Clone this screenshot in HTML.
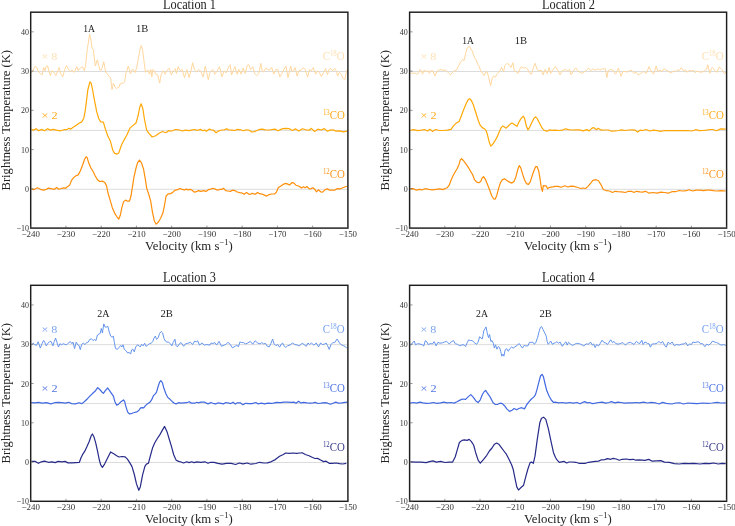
<!DOCTYPE html>
<html><head><meta charset="utf-8"><style>
html,body{margin:0;padding:0;background:#fff;overflow:hidden;}
svg{display:block;font-family:"Liberation Serif", serif;will-change:transform;}
</style></head><body>
<svg width="735" height="526" viewBox="0 0 735 526">
<rect width="735" height="526" fill="#fff"/>
<line x1="30.7" x2="347.9" y1="189.30" y2="189.30" stroke="#dcdcdc" stroke-width="1"/>
<line x1="30.7" x2="347.9" y1="130.41" y2="130.41" stroke="#dcdcdc" stroke-width="1"/>
<line x1="30.7" x2="347.9" y1="71.53" y2="71.53" stroke="#dcdcdc" stroke-width="1"/>
<path d="M31.0,72.2 L32.0,72.2 L34.8,66.7 L36.8,67.4 L38.2,70.8 L40.2,73.5 L42.2,74.9 L43.6,67.4 L45.0,70.8 L46.3,66.0 L47.7,66.0 L49.0,71.5 L50.4,75.6 L51.8,70.8 L53.8,72.2 L55.9,75.6 L57.2,72.2 L59.3,67.4 L60.6,73.5 L62.7,76.9 L64.7,69.5 L66.5,65.6 L68.1,68.8 L70.1,71.5 L72.2,70.1 L74.2,72.4 L76.9,66.7 L78.3,70.8 L80.3,68.1 L82.4,66.7 L84.4,70.8 L85.8,64.0 L87.1,50.4 L88.2,43.6 L89.6,34.1 L91.0,40.2 L91.9,47.7 L93.3,49.7 L95.3,66.0 L97.3,59.9 L98.7,65.4 L100.0,70.3 L101.3,70.0 L102.3,67.3 L103.7,61.7 L104.7,66.7 L105.7,72.0 L106.7,73.3 L108.0,75.0 L109.3,76.6 L110.6,78.0 L111.3,83.3 L112.0,89.6 L112.6,86.6 L113.3,83.3 L114.3,85.0 L115.3,87.3 L116.3,88.6 L117.3,87.6 L118.3,87.9 L119.3,86.9 L120.0,84.0 L121.0,83.6 L122.0,83.3 L123.3,83.0 L124.6,82.0 L125.3,77.3 L125.9,73.3 L126.9,70.6 L128.3,66.0 L129.3,69.3 L130.5,74.0 L131.3,71.6 L132.6,69.0 L133.9,70.6 L135.0,72.6 L136.6,68.1 L138.6,57.2 L140.2,48.4 L141.3,45.6 L142.7,50.4 L144.0,61.3 L145.4,72.2 L146.8,70.8 L148.1,70.1 L149.5,74.2 L150.9,69.5 L151.8,76.9 L152.9,69.5 L154.3,70.8 L155.6,74.2 L157.7,74.9 L159.7,83.1 L161.1,74.9 L163.1,70.8 L165.1,74.2 L167.2,70.1 L169.2,68.1 L171.3,74.9 L173.3,70.8 L175.3,68.8 L176.4,73.5 L178.1,66.7 L180.1,70.8 L182.1,69.5 L184.5,77.6 L186.9,69.5 L189.0,77.6 L191.0,70.8 L192.6,62.7 L194.4,69.5 L196.4,72.2 L198.5,69.5 L200.5,70.8 L203.2,76.9 L205.3,66.0 L206.6,72.2 L208.3,79.7 L210.0,72.2 L212.8,69.5 L214.8,74.2 L216.8,71.5 L219.6,66.7 L222.0,76.9 L224.1,70.8 L226.1,72.9 L228.2,68.1 L230.2,64.7 L231.6,74.9 L233.6,69.5 L235.0,66.7 L237.0,74.2 L239.0,69.5 L241.1,74.2 L243.1,68.1 L245.2,73.5 L247.2,65.4 L248.8,64.7 L250.6,69.5 L252.7,66.7 L254.7,73.5 L256.7,75.6 L258.8,73.5 L260.8,63.3 L262.2,70.8 L263.5,72.2 L265.6,68.1 L267.6,69.5 L269.7,70.1 L271.7,67.4 L273.7,74.2 L275.8,69.5 L277.8,69.5 L279.9,76.9 L281.9,73.5 L283.9,69.5 L286.0,66.0 L288.0,77.6 L290.7,66.0 L291.9,71.4 L293.8,70.4 L295.2,67.6 L297.1,76.1 L299.0,70.4 L300.9,70.4 L303.3,67.6 L305.2,69.5 L307.6,77.1 L309.5,69.5 L311.4,70.9 L313.3,67.6 L315.7,74.2 L317.6,70.9 L319.5,72.8 L321.4,76.6 L323.7,72.3 L325.6,68.5 L327.5,74.7 L329.0,69.5 L330.9,68.5 L332.8,70.9 L334.7,68.5 L336.6,71.4 L337.5,76.1 L339.4,72.3 L341.3,74.2 L343.2,78.5 L344.7,79.9 L346.1,73.3 L347.0,70.0" fill="none" stroke="#ffd79e" stroke-width="1.0" stroke-linejoin="round"/>
<path d="M31.4,129.4 L33.4,130.1 L36.1,128.7 L38.8,130.8 L41.6,129.4 L44.3,130.8 L47.7,128.7 L50.4,130.1 L53.1,129.4 L56.5,130.1 L60.6,130.8 L64.0,129.7 L67.4,129.4 L68.8,128.3 L70.8,129.1 L73.5,127.1 L76.3,125.3 L79.0,123.3 L81.7,121.9 L83.7,118.5 L85.1,111.7 L86.5,100.9 L87.8,90.0 L89.9,81.8 L91.2,83.2 L92.6,90.0 L94.6,100.9 L96.7,111.7 L98.7,118.5 L100.7,121.9 L103.4,122.1 L105.1,128.1 L107.7,135.8 L110.3,140.9 L112.8,150.3 L114.6,153.4 L117.1,154.1 L118.8,152.9 L121.4,145.2 L124.0,140.1 L126.5,135.8 L130.0,128.1 L132.5,125.9 L136.0,123.0 L138.0,116.1 L139.7,107.5 L141.1,103.8 L142.8,108.4 L144.5,119.5 L146.6,129.8 L148.8,133.2 L152.2,137.0 L155.7,135.8 L159.1,133.2 L162.5,131.5 L165.9,132.7 L168.5,130.7 L171.9,131.0 L175.3,129.5 L178.8,129.8 L182.2,131.0 L185.6,130.1 L189.0,130.7 L192.5,129.8 L195.0,129.5 L197.2,130.5 L200.4,129.4 L203.2,130.8 L204.8,130.0 L206.4,131.3 L209.1,129.1 L211.3,129.8 L213.5,130.2 L216.2,132.7 L218.9,130.8 L221.7,130.0 L224.4,129.8 L226.6,128.9 L228.7,129.8 L232.0,130.2 L234.7,130.5 L237.4,129.4 L240.7,129.8 L243.4,130.8 L246.1,129.8 L248.9,130.0 L251.6,131.9 L254.3,131.6 L257.0,130.5 L259.7,129.4 L262.5,129.1 L265.2,129.8 L269.0,130.0 L274.9,129.1 L278.2,130.8 L282.0,128.9 L285.2,128.4 L289.0,128.6 L292.3,130.5 L295.6,128.9 L298.8,131.1 L302.6,128.7 L306.5,130.0 L309.2,130.2 L311.3,128.3 L314.6,131.6 L317.9,129.2 L321.1,130.0 L324.4,128.6 L327.1,131.1 L330.4,130.2 L333.1,129.8 L335.8,131.1 L339.6,130.8 L343.4,131.9 L347.0,131.1" fill="none" stroke="#ffa806" stroke-width="1.2" stroke-linejoin="round"/>
<path d="M31.5,188.6 L33.7,189.8 L37.4,187.8 L40.4,189.3 L43.4,190.1 L46.3,189.3 L48.5,188.1 L52.3,188.9 L54.5,189.3 L56.7,187.5 L58.9,189.3 L61.9,188.3 L63.8,187.8 L65.6,188.3 L67.8,186.4 L69.8,184.9 L71.5,180.4 L73.8,177.4 L76.0,175.7 L78.2,174.9 L80.4,170.8 L82.7,164.8 L84.6,159.2 L86.1,156.7 L87.1,157.4 L88.6,162.6 L90.8,167.8 L93.1,171.5 L95.3,176.0 L97.5,179.7 L99.7,181.5 L102.7,181.2 L104.9,182.6 L106.5,185.6 L108.0,193.0 L110.2,200.4 L112.4,207.9 L114.6,213.1 L116.9,216.8 L118.8,219.0 L120.3,215.3 L121.8,207.9 L123.5,201.9 L125.5,200.1 L127.6,201.2 L129.5,201.2 L131.0,196.0 L132.4,187.1 L133.9,177.4 L135.9,168.5 L137.6,162.6 L139.4,160.1 L141.4,162.6 L143.6,169.3 L145.4,179.7 L146.8,188.6 L148.8,194.5 L150.7,201.2 L152.5,212.3 L154.4,221.2 L156.2,224.2 L158.4,222.0 L160.6,218.2 L162.9,213.1 L164.3,206.4 L166.1,196.0 L168.1,193.8 L170.3,193.8 L172.5,192.6 L174.7,190.4 L177.7,189.6 L180.0,188.5 L182.3,189.4 L184.6,189.9 L186.4,189.1 L188.1,189.9 L190.4,189.4 L192.1,190.2 L194.5,192.2 L196.2,191.7 L198.5,190.6 L200.8,191.4 L203.7,190.6 L206.0,191.4 L208.3,189.7 L210.6,189.1 L213.0,188.3 L215.3,189.1 L217.6,190.2 L219.9,189.4 L221.6,189.4 L223.7,188.3 L225.7,190.6 L228.0,191.0 L230.3,191.4 L232.6,190.2 L234.9,190.6 L237.2,192.0 L239.6,192.6 L241.9,192.9 L244.2,194.3 L246.5,192.6 L249.4,194.5 L252.3,193.4 L255.2,194.3 L257.5,192.6 L259.8,193.7 L262.7,194.3 L264.4,195.1 L266.6,196.1 L269.2,194.6 L271.6,194.0 L274.6,194.0 L276.4,192.2 L278.2,187.7 L280.6,186.2 L283.0,184.4 L286.0,183.4 L287.7,184.1 L289.5,185.0 L291.9,182.6 L293.7,182.9 L296.1,185.3 L299.1,186.2 L301.5,188.0 L303.3,186.8 L305.1,187.7 L306.9,186.5 L309.3,188.9 L311.1,188.6 L312.9,187.7 L314.7,189.2 L316.5,191.8 L318.3,189.8 L320.7,191.8 L322.5,192.2 L324.9,189.8 L327.3,188.9 L329.7,190.1 L332.7,190.1 L335.1,190.1 L337.4,188.6 L339.8,188.9 L342.2,188.0 L344.6,187.0 L347.0,186.2" fill="none" stroke="#ff8f0a" stroke-width="1.2" stroke-linejoin="round"/>
<rect x="30.7" y="12.2" width="317.20" height="215.90" fill="none" stroke="#1e1e1e" stroke-width="1.45"/>
<line x1="30.70" x2="30.70" y1="228.1" y2="225.6" stroke="#555" stroke-width="0.6"/>
<text x="30.70" y="237.10" font-size="8.9" text-anchor="middle" fill="#333" >&#8722;240</text>
<line x1="65.94" x2="65.94" y1="228.1" y2="225.6" stroke="#555" stroke-width="0.6"/>
<text x="65.94" y="237.10" font-size="8.9" text-anchor="middle" fill="#333" >&#8722;230</text>
<line x1="101.19" x2="101.19" y1="228.1" y2="225.6" stroke="#555" stroke-width="0.6"/>
<text x="101.19" y="237.10" font-size="8.9" text-anchor="middle" fill="#333" >&#8722;220</text>
<line x1="136.43" x2="136.43" y1="228.1" y2="225.6" stroke="#555" stroke-width="0.6"/>
<text x="136.43" y="237.10" font-size="8.9" text-anchor="middle" fill="#333" >&#8722;210</text>
<line x1="171.68" x2="171.68" y1="228.1" y2="225.6" stroke="#555" stroke-width="0.6"/>
<text x="171.68" y="237.10" font-size="8.9" text-anchor="middle" fill="#333" >&#8722;200</text>
<line x1="206.92" x2="206.92" y1="228.1" y2="225.6" stroke="#555" stroke-width="0.6"/>
<text x="206.92" y="237.10" font-size="8.9" text-anchor="middle" fill="#333" >&#8722;190</text>
<line x1="242.17" x2="242.17" y1="228.1" y2="225.6" stroke="#555" stroke-width="0.6"/>
<text x="242.17" y="237.10" font-size="8.9" text-anchor="middle" fill="#333" >&#8722;180</text>
<line x1="277.41" x2="277.41" y1="228.1" y2="225.6" stroke="#555" stroke-width="0.6"/>
<text x="277.41" y="237.10" font-size="8.9" text-anchor="middle" fill="#333" >&#8722;170</text>
<line x1="312.66" x2="312.66" y1="228.1" y2="225.6" stroke="#555" stroke-width="0.6"/>
<text x="312.66" y="237.10" font-size="8.9" text-anchor="middle" fill="#333" >&#8722;160</text>
<line x1="347.90" x2="347.90" y1="228.1" y2="225.6" stroke="#555" stroke-width="0.6"/>
<text x="347.90" y="237.10" font-size="8.9" text-anchor="middle" fill="#333" >&#8722;150</text>
<line x1="30.7" x2="33.7" y1="228.10" y2="228.10" stroke="#555" stroke-width="0.6"/>
<text transform="translate(28.95,231.15) scale(0.9,1)" font-size="8.9" text-anchor="end" fill="#333">&#8722;10</text>
<line x1="30.7" x2="33.7" y1="188.85" y2="188.85" stroke="#555" stroke-width="0.6"/>
<text transform="translate(28.95,191.90) scale(0.9,1)" font-size="8.9" text-anchor="end" fill="#333">0</text>
<line x1="30.7" x2="33.7" y1="149.59" y2="149.59" stroke="#555" stroke-width="0.6"/>
<text transform="translate(28.95,152.64) scale(0.9,1)" font-size="8.9" text-anchor="end" fill="#333">10</text>
<line x1="30.7" x2="33.7" y1="110.34" y2="110.34" stroke="#555" stroke-width="0.6"/>
<text transform="translate(28.95,113.39) scale(0.9,1)" font-size="8.9" text-anchor="end" fill="#333">20</text>
<line x1="30.7" x2="33.7" y1="71.08" y2="71.08" stroke="#555" stroke-width="0.6"/>
<text transform="translate(28.95,74.13) scale(0.9,1)" font-size="8.9" text-anchor="end" fill="#333">30</text>
<line x1="30.7" x2="33.7" y1="31.83" y2="31.83" stroke="#555" stroke-width="0.6"/>
<text transform="translate(28.95,34.88) scale(0.9,1)" font-size="8.9" text-anchor="end" fill="#333">40</text>
<line x1="409.6" x2="726.6" y1="189.30" y2="189.30" stroke="#dcdcdc" stroke-width="1"/>
<line x1="409.6" x2="726.6" y1="130.41" y2="130.41" stroke="#dcdcdc" stroke-width="1"/>
<line x1="409.6" x2="726.6" y1="71.53" y2="71.53" stroke="#dcdcdc" stroke-width="1"/>
<path d="M410.4,72.9 L412.4,73.5 L414.4,72.9 L416.5,74.2 L418.5,73.3 L419.9,69.5 L421.2,70.8 L422.6,74.2 L424.2,70.1 L426.0,71.5 L428.0,70.8 L429.4,73.3 L430.8,70.8 L432.8,70.8 L434.9,76.0 L436.9,71.5 L438.9,70.1 L441.0,69.5 L443.0,70.5 L445.1,69.7 L447.1,71.5 L449.1,73.5 L450.5,74.9 L452.5,72.2 L454.6,70.8 L456.6,70.1 L458.7,65.4 L460.7,62.0 L462.7,59.3 L464.1,60.6 L465.5,53.8 L466.8,49.0 L468.2,47.0 L469.5,46.1 L470.9,49.0 L472.3,51.1 L473.6,55.2 L475.0,58.6 L476.3,59.9 L477.7,64.7 L479.1,66.0 L480.4,70.1 L482.5,73.5 L484.1,75.6 L485.9,71.5 L487.2,72.2 L488.6,76.9 L490.6,85.8 L492.0,79.0 L493.4,76.3 L495.4,76.9 L497.4,73.5 L499.5,71.5 L501.5,67.4 L503.6,71.5 L505.0,65.4 L507.0,63.3 L509.1,64.7 L511.1,67.4 L512.9,62.7 L514.3,70.8 L515.9,71.5 L517.9,73.5 L520.0,68.8 L521.3,66.7 L523.4,68.1 L525.4,67.4 L527.4,68.8 L529.5,72.9 L531.5,74.2 L533.6,66.7 L535.2,63.3 L537.0,69.5 L539.0,70.8 L541.1,70.1 L543.1,74.9 L545.1,69.5 L547.2,73.5 L549.2,67.4 L550.6,73.5 L552.6,70.1 L555.3,66.5 L557.4,69.5 L560.1,74.9 L562.1,70.8 L564.9,69.5 L567.6,70.8 L569.6,69.5 L571.0,74.9 L573.0,71.5 L575.7,67.8 L577.8,70.8 L579.8,72.2 L581.9,73.3 L583.9,72.2 L586.6,70.1 L588.7,68.1 L590.7,70.8 L592.8,68.8 L595.5,70.1 L598.2,68.8 L600.0,70.1 L602.7,68.8 L605.4,68.8 L606.8,77.6 L608.2,70.8 L610.2,69.5 L612.9,70.1 L615.6,74.2 L618.4,68.1 L621.1,76.3 L623.1,71.5 L625.2,71.5 L627.2,72.2 L629.3,70.8 L631.3,70.1 L634.0,73.5 L636.1,72.2 L638.1,74.9 L640.8,73.5 L643.5,71.5 L646.3,73.5 L649.0,66.7 L651.0,70.8 L653.7,74.2 L656.1,66.0 L657.8,71.5 L659.9,70.1 L661.9,71.5 L663.9,68.8 L666.0,70.1 L668.0,70.8 L670.0,72.8 L671.9,72.3 L673.8,70.9 L675.7,71.4 L677.6,69.9 L679.5,70.4 L681.4,67.6 L682.8,69.9 L684.3,70.9 L685.7,69.9 L687.1,72.3 L689.0,70.4 L691.4,70.9 L693.8,70.4 L695.2,72.8 L697.1,70.9 L699.0,71.8 L700.9,72.3 L702.8,71.8 L704.7,70.4 L706.6,69.5 L707.8,64.7 L709.0,69.9 L709.9,73.3 L711.1,69.5 L712.3,67.6 L713.7,69.0 L715.2,70.9 L717.1,72.3 L719.0,67.1 L720.4,68.0 L721.8,69.5 L723.2,71.8 L724.7,73.7 L726.1,71.8" fill="none" stroke="#ffd79e" stroke-width="1.0" stroke-linejoin="round"/>
<path d="M410.2,130.4 L413.9,129.7 L417.7,130.7 L421.4,130.1 L424.5,129.5 L427.5,131.0 L430.0,129.3 L432.5,131.4 L435.6,129.5 L439.3,130.5 L443.6,130.5 L447.3,130.1 L451.0,129.3 L453.5,125.8 L456.0,123.3 L459.1,121.5 L460.9,117.1 L463.4,110.3 L465.9,104.2 L468.1,99.8 L469.6,98.6 L471.4,100.5 L473.3,104.8 L475.7,112.2 L478.2,120.2 L480.0,124.9 L482.2,127.6 L484.4,128.7 L486.0,130.4 L487.6,135.3 L489.2,141.8 L490.7,146.1 L492.5,144.5 L494.7,141.2 L496.9,137.4 L499.0,132.5 L500.9,128.2 L502.6,126.0 L504.5,127.1 L506.1,128.2 L508.3,126.0 L510.5,123.8 L512.1,123.1 L514.3,124.4 L517.0,126.3 L518.6,122.7 L520.8,118.9 L523.3,116.2 L524.6,118.4 L526.2,125.5 L527.9,129.8 L529.5,127.6 L531.7,122.7 L533.9,118.4 L535.5,116.8 L537.1,118.4 L539.3,122.7 L541.5,127.1 L543.7,130.0 L546.4,131.1 L548.0,130.9 L549.6,129.8 L551.8,130.4 L555.0,130.2 L558.7,130.5 L562.3,130.2 L565.4,128.8 L568.5,129.6 L572.1,130.0 L575.8,129.8 L579.5,129.8 L583.2,130.9 L586.8,129.6 L589.3,130.9 L591.7,128.4 L593.6,127.5 L596.0,129.6 L598.5,128.4 L601.5,130.2 L605.2,130.0 L608.2,130.0 L611.3,131.2 L615.0,130.9 L618.6,130.5 L621.7,129.8 L624.8,130.5 L628.4,130.0 L632.1,129.8 L635.2,130.2 L637.6,132.1 L640.1,130.2 L643.1,130.5 L646.1,129.5 L649.8,131.0 L653.5,130.1 L657.1,130.7 L660.8,131.3 L664.5,130.5 L668.2,130.7 L673.0,130.5 L677.9,130.7 L682.8,130.7 L687.7,130.5 L692.0,131.0 L695.7,129.7 L699.4,130.7 L703.0,130.5 L706.7,130.1 L709.8,129.5 L712.8,129.5 L716.5,130.7 L720.8,128.9 L725.7,129.2" fill="none" stroke="#ffa806" stroke-width="1.2" stroke-linejoin="round"/>
<path d="M410.2,188.9 L413.3,188.6 L416.4,190.2 L419.5,189.3 L422.6,189.8 L425.1,188.7 L428.8,189.3 L432.5,189.8 L436.2,189.3 L439.9,188.9 L443.0,189.6 L445.5,188.3 L447.3,187.7 L449.2,185.2 L451.0,180.3 L452.9,176.0 L455.0,172.2 L457.2,168.5 L459.1,164.2 L460.3,159.9 L461.5,158.7 L463.4,160.5 L465.9,163.8 L468.3,167.3 L470.8,171.6 L472.7,174.7 L474.5,179.7 L476.7,182.1 L478.8,182.8 L480.7,181.5 L481.9,178.4 L483.5,176.6 L485.6,179.7 L488.0,185.8 L489.9,190.8 L491.7,195.7 L493.6,198.8 L495.1,199.2 L496.7,195.7 L498.5,188.9 L500.4,182.8 L502.2,179.9 L504.5,178.7 L506.6,180.3 L509.0,181.9 L511.9,183.1 L514.0,181.5 L515.8,177.2 L517.7,169.8 L519.3,165.5 L520.8,167.9 L522.6,174.1 L524.5,179.7 L526.4,183.6 L528.5,184.4 L530.1,182.1 L531.9,176.6 L533.8,171.0 L535.6,166.7 L537.1,166.7 L538.7,171.0 L540.0,178.4 L541.2,187.1 L542.4,191.4 L543.3,185.6 L544.9,185.8 L546.1,185.8 L547.7,188.6 L549.8,187.3 L552.9,186.8 L555.0,186.4 L558.1,186.4 L561.1,187.3 L564.8,185.8 L567.9,187.0 L570.9,186.1 L574.0,186.4 L577.0,187.3 L580.7,188.5 L583.2,188.0 L585.6,188.5 L588.0,186.4 L590.5,183.4 L592.9,180.3 L596.0,179.7 L598.5,180.7 L600.9,184.6 L603.3,189.5 L606.4,190.7 L609.5,191.0 L612.5,192.5 L615.0,191.3 L618.0,191.7 L621.7,191.9 L625.4,192.5 L628.4,191.3 L631.5,191.3 L633.9,192.5 L636.4,191.3 L640.0,191.9 L642.4,192.2 L645.5,191.3 L649.2,193.2 L652.9,192.5 L657.1,193.2 L660.8,192.2 L664.5,192.5 L668.2,193.2 L671.8,191.7 L675.5,191.7 L679.2,190.5 L682.8,191.0 L686.5,190.7 L689.0,189.7 L692.6,191.0 L696.3,190.1 L700.0,190.1 L703.6,190.7 L706.7,190.1 L710.4,190.1 L713.4,190.7 L716.5,191.0 L720.8,190.7 L725.7,191.0" fill="none" stroke="#ff8f0a" stroke-width="1.2" stroke-linejoin="round"/>
<rect x="409.6" y="12.2" width="317.00" height="215.90" fill="none" stroke="#1e1e1e" stroke-width="1.45"/>
<line x1="409.60" x2="409.60" y1="228.1" y2="225.6" stroke="#555" stroke-width="0.6"/>
<text x="409.60" y="237.10" font-size="8.9" text-anchor="middle" fill="#333" >&#8722;240</text>
<line x1="444.82" x2="444.82" y1="228.1" y2="225.6" stroke="#555" stroke-width="0.6"/>
<text x="444.82" y="237.10" font-size="8.9" text-anchor="middle" fill="#333" >&#8722;230</text>
<line x1="480.04" x2="480.04" y1="228.1" y2="225.6" stroke="#555" stroke-width="0.6"/>
<text x="480.04" y="237.10" font-size="8.9" text-anchor="middle" fill="#333" >&#8722;220</text>
<line x1="515.27" x2="515.27" y1="228.1" y2="225.6" stroke="#555" stroke-width="0.6"/>
<text x="515.27" y="237.10" font-size="8.9" text-anchor="middle" fill="#333" >&#8722;210</text>
<line x1="550.49" x2="550.49" y1="228.1" y2="225.6" stroke="#555" stroke-width="0.6"/>
<text x="550.49" y="237.10" font-size="8.9" text-anchor="middle" fill="#333" >&#8722;200</text>
<line x1="585.71" x2="585.71" y1="228.1" y2="225.6" stroke="#555" stroke-width="0.6"/>
<text x="585.71" y="237.10" font-size="8.9" text-anchor="middle" fill="#333" >&#8722;190</text>
<line x1="620.93" x2="620.93" y1="228.1" y2="225.6" stroke="#555" stroke-width="0.6"/>
<text x="620.93" y="237.10" font-size="8.9" text-anchor="middle" fill="#333" >&#8722;180</text>
<line x1="656.16" x2="656.16" y1="228.1" y2="225.6" stroke="#555" stroke-width="0.6"/>
<text x="656.16" y="237.10" font-size="8.9" text-anchor="middle" fill="#333" >&#8722;170</text>
<line x1="691.38" x2="691.38" y1="228.1" y2="225.6" stroke="#555" stroke-width="0.6"/>
<text x="691.38" y="237.10" font-size="8.9" text-anchor="middle" fill="#333" >&#8722;160</text>
<line x1="726.60" x2="726.60" y1="228.1" y2="225.6" stroke="#555" stroke-width="0.6"/>
<text x="726.60" y="237.10" font-size="8.9" text-anchor="middle" fill="#333" >&#8722;150</text>
<line x1="409.6" x2="412.6" y1="228.10" y2="228.10" stroke="#555" stroke-width="0.6"/>
<text transform="translate(407.85,231.15) scale(0.9,1)" font-size="8.9" text-anchor="end" fill="#333">&#8722;10</text>
<line x1="409.6" x2="412.6" y1="188.85" y2="188.85" stroke="#555" stroke-width="0.6"/>
<text transform="translate(407.85,191.90) scale(0.9,1)" font-size="8.9" text-anchor="end" fill="#333">0</text>
<line x1="409.6" x2="412.6" y1="149.59" y2="149.59" stroke="#555" stroke-width="0.6"/>
<text transform="translate(407.85,152.64) scale(0.9,1)" font-size="8.9" text-anchor="end" fill="#333">10</text>
<line x1="409.6" x2="412.6" y1="110.34" y2="110.34" stroke="#555" stroke-width="0.6"/>
<text transform="translate(407.85,113.39) scale(0.9,1)" font-size="8.9" text-anchor="end" fill="#333">20</text>
<line x1="409.6" x2="412.6" y1="71.08" y2="71.08" stroke="#555" stroke-width="0.6"/>
<text transform="translate(407.85,74.13) scale(0.9,1)" font-size="8.9" text-anchor="end" fill="#333">30</text>
<line x1="409.6" x2="412.6" y1="31.83" y2="31.83" stroke="#555" stroke-width="0.6"/>
<text transform="translate(407.85,34.88) scale(0.9,1)" font-size="8.9" text-anchor="end" fill="#333">40</text>
<line x1="30.7" x2="347.9" y1="462.48" y2="462.48" stroke="#dcdcdc" stroke-width="1"/>
<line x1="30.7" x2="347.9" y1="403.57" y2="403.57" stroke="#dcdcdc" stroke-width="1"/>
<line x1="30.7" x2="347.9" y1="344.66" y2="344.66" stroke="#dcdcdc" stroke-width="1"/>
<path d="M31.6,344.8 L33.3,343.2 L34.9,344.8 L36.5,345.4 L38.2,341.8 L39.2,344.8 L40.3,348.1 L42.0,343.7 L43.6,340.5 L44.7,342.1 L46.3,345.9 L48.0,343.2 L49.6,341.6 L51.2,341.6 L52.9,345.9 L54.2,341.6 L55.6,338.1 L57.0,342.6 L58.5,347.0 L59.9,343.7 L61.6,344.8 L63.2,343.7 L64.8,344.3 L66.5,344.8 L68.1,343.2 L70.3,341.6 L71.9,343.7 L73.0,342.1 L74.6,348.6 L76.2,342.1 L77.7,344.8 L79.0,345.4 L80.3,349.7 L81.7,344.3 L83.3,343.2 L85.0,344.6 L86.6,342.6 L88.2,342.1 L89.8,339.4 L91.5,338.8 L93.1,340.5 L94.7,339.4 L95.8,340.7 L97.5,335.0 L99.1,333.9 L100.2,333.4 L101.3,328.5 L102.4,332.9 L103.8,323.9 L105.1,327.1 L106.6,327.1 L107.9,326.3 L109.2,331.8 L110.7,336.1 L112.0,337.2 L113.3,336.1 L114.4,342.6 L115.5,348.6 L117.4,349.4 L119.0,347.5 L120.7,345.4 L121.8,347.0 L123.1,344.8 L124.2,349.2 L126.1,350.8 L127.7,353.0 L129.2,352.4 L130.5,354.1 L131.8,349.7 L132.9,349.2 L134.3,351.9 L135.7,347.0 L137.5,344.8 L139.2,345.9 L140.3,347.0 L141.6,344.3 L143.0,345.9 L144.6,343.2 L146.2,346.5 L147.9,344.8 L149.5,343.7 L151.1,343.2 L152.8,341.6 L153.9,338.3 L155.3,336.1 L156.6,339.4 L158.2,337.7 L159.6,333.4 L161.2,331.5 L162.6,332.9 L164.0,338.3 L165.3,341.0 L166.9,342.1 L168.6,342.1 L170.2,343.7 L171.8,345.9 L173.1,342.6 L174.9,339.2 L176.2,345.7 L177.4,346.9 L179.3,343.9 L181.1,342.6 L183.6,346.3 L185.4,343.9 L187.9,343.3 L190.3,342.3 L192.7,344.5 L194.6,341.1 L196.4,341.8 L197.6,340.8 L199.5,345.1 L201.9,343.0 L204.4,345.1 L206.8,344.5 L209.9,345.1 L211.1,343.0 L212.9,343.5 L214.8,342.6 L216.6,345.1 L219.1,341.4 L221.5,346.3 L224.0,345.1 L225.8,344.5 L227.9,342.3 L230.1,344.2 L232.5,347.9 L235.0,346.3 L236.8,345.1 L238.4,346.9 L239.9,342.0 L241.7,342.6 L243.5,342.6 L245.4,343.9 L247.8,343.0 L250.3,341.4 L252.7,344.2 L255.2,340.8 L257.6,343.0 L260.1,343.9 L261.8,342.6 L263.7,343.9 L265.5,343.3 L267.3,346.3 L269.2,346.9 L271.0,343.3 L272.6,339.0 L274.1,343.9 L275.9,345.7 L277.7,344.5 L279.6,347.2 L281.4,343.9 L282.6,343.0 L283.9,345.7 L285.7,347.5 L287.5,345.7 L290.0,345.1 L292.4,343.0 L294.9,344.5 L297.3,345.1 L299.2,345.9 L302.2,343.3 L304.1,344.5 L306.3,346.3 L308.0,343.0 L309.6,344.5 L311.4,343.0 L313.9,345.1 L316.3,343.0 L318.5,346.9 L320.6,343.0 L322.4,344.5 L324.3,344.2 L326.1,343.0 L327.6,345.7 L329.2,349.4 L331.0,344.5 L332.8,342.6 L334.7,342.6 L337.1,339.0 L338.9,342.0 L340.8,344.5 L343.2,345.7 L345.1,346.3 L346.9,348.4" fill="none" stroke="#6495ed" stroke-width="1.0" stroke-linejoin="round"/>
<path d="M31.2,402.7 L34.9,402.9 L38.6,402.3 L42.2,403.2 L46.5,402.7 L50.8,403.9 L54.5,402.7 L58.2,402.3 L61.8,402.7 L65.5,403.2 L68.6,402.3 L71.6,403.6 L75.3,403.9 L79.0,402.7 L82.0,403.6 L84.5,401.5 L87.5,398.7 L90.6,395.4 L93.6,392.5 L95.5,390.7 L97.7,387.6 L99.8,389.5 L101.6,391.7 L103.4,393.4 L105.3,390.7 L107.7,388.0 L109.6,390.7 L111.8,393.8 L113.4,396.2 L114.9,401.7 L116.7,405.1 L118.6,404.2 L121.0,401.7 L123.5,399.9 L124.7,401.7 L125.9,406.6 L127.7,412.1 L129.6,414.0 L132.0,413.3 L134.5,412.5 L136.9,411.8 L138.8,410.5 L140.6,407.8 L142.4,407.6 L143.7,407.8 L145.5,405.6 L147.3,403.9 L149.8,402.3 L151.6,399.9 L153.5,395.6 L155.3,393.8 L156.5,392.2 L158.0,387.0 L159.6,382.1 L160.8,380.7 L162.4,382.7 L163.9,388.3 L165.7,393.2 L167.5,397.1 L170.0,399.3 L172.4,401.7 L174.3,403.2 L176.1,403.9 L178.5,402.7 L181.0,403.2 L183.4,402.9 L186.5,402.7 L189.3,401.7 L191.4,403.2 L194.5,403.2 L196.9,402.3 L198.3,402.8 L201.0,402.2 L204.2,402.0 L206.4,403.1 L208.1,403.9 L210.8,402.5 L213.0,403.3 L215.7,403.9 L218.4,402.8 L221.1,403.3 L223.3,403.9 L226.0,402.5 L228.7,403.1 L230.9,403.6 L233.1,402.2 L235.3,404.1 L237.4,402.8 L240.2,402.8 L242.9,404.7 L245.6,403.3 L248.9,403.6 L252.1,403.6 L255.9,402.5 L258.1,403.9 L261.4,403.1 L264.6,403.9 L267.9,403.1 L271.2,403.3 L273.3,403.2 L276.5,402.4 L280.3,402.6 L284.1,402.1 L287.4,402.1 L291.2,402.4 L293.9,402.1 L296.1,403.2 L298.5,401.3 L301.0,402.9 L303.7,402.4 L307.0,402.9 L310.3,403.2 L313.0,402.9 L315.2,402.4 L317.9,403.5 L321.1,403.2 L325.0,402.6 L327.7,403.2 L330.4,404.3 L333.1,403.2 L335.8,402.1 L338.6,403.2 L341.8,402.9 L345.1,402.4 L347.3,402.2" fill="none" stroke="#4169e1" stroke-width="1.2" stroke-linejoin="round"/>
<path d="M31.5,461.4 L35.3,461.4 L38.4,463.3 L41.4,461.8 L44.4,461.1 L48.3,462.3 L52.0,461.8 L55.1,462.6 L58.1,461.4 L61.9,461.8 L65.0,461.4 L68.0,462.9 L71.8,462.9 L75.6,462.6 L79.4,462.3 L80.9,458.0 L82.5,454.7 L84.8,451.2 L87.0,446.6 L89.3,441.3 L91.1,436.0 L92.4,434.0 L93.9,436.7 L95.7,442.8 L97.7,451.9 L99.2,459.5 L100.7,464.9 L102.4,467.3 L104.6,464.1 L107.6,458.0 L110.6,451.9 L113.7,453.8 L116.7,455.7 L119.0,457.0 L122.1,456.5 L125.1,456.8 L127.4,459.2 L129.7,462.6 L131.9,466.4 L134.2,474.0 L136.5,483.9 L138.8,490.3 L140.3,486.9 L142.6,474.8 L144.9,466.4 L146.4,464.1 L148.4,463.3 L150.2,456.5 L152.5,448.1 L154.8,442.8 L157.0,439.0 L159.6,435.2 L162.1,430.6 L164.6,426.4 L166.9,431.4 L169.2,439.0 L171.5,446.6 L173.8,455.0 L175.5,458.8 L176.2,460.2 L178.7,461.4 L181.1,462.0 L183.6,463.0 L186.6,461.8 L189.1,462.6 L191.5,461.8 L194.0,462.6 L197.0,461.8 L200.7,462.4 L205.0,461.8 L208.0,463.3 L210.5,462.3 L214.2,462.3 L217.8,463.3 L222.1,464.2 L226.4,463.3 L231.3,463.3 L235.6,464.5 L239.3,463.0 L242.9,463.9 L247.2,463.0 L250.9,464.2 L255.8,463.5 L259.5,462.3 L263.7,463.0 L267.3,462.8 L271.0,461.8 L275.3,459.6 L279.6,456.3 L283.3,454.5 L285.7,453.0 L289.4,453.3 L293.0,453.0 L296.7,453.3 L299.8,453.0 L302.2,452.8 L305.3,454.5 L309.0,455.7 L312.6,457.5 L315.1,458.5 L317.5,458.4 L320.6,460.0 L323.6,461.6 L326.1,461.2 L329.2,463.3 L332.2,463.3 L335.9,463.0 L339.6,463.7 L342.6,464.0 L346.3,463.3" fill="none" stroke="#262a88" stroke-width="1.2" stroke-linejoin="round"/>
<rect x="30.7" y="285.3" width="317.20" height="216.00" fill="none" stroke="#1e1e1e" stroke-width="1.45"/>
<line x1="30.70" x2="30.70" y1="501.3" y2="498.8" stroke="#555" stroke-width="0.6"/>
<text x="30.70" y="510.30" font-size="8.9" text-anchor="middle" fill="#333" >&#8722;240</text>
<line x1="65.94" x2="65.94" y1="501.3" y2="498.8" stroke="#555" stroke-width="0.6"/>
<text x="65.94" y="510.30" font-size="8.9" text-anchor="middle" fill="#333" >&#8722;230</text>
<line x1="101.19" x2="101.19" y1="501.3" y2="498.8" stroke="#555" stroke-width="0.6"/>
<text x="101.19" y="510.30" font-size="8.9" text-anchor="middle" fill="#333" >&#8722;220</text>
<line x1="136.43" x2="136.43" y1="501.3" y2="498.8" stroke="#555" stroke-width="0.6"/>
<text x="136.43" y="510.30" font-size="8.9" text-anchor="middle" fill="#333" >&#8722;210</text>
<line x1="171.68" x2="171.68" y1="501.3" y2="498.8" stroke="#555" stroke-width="0.6"/>
<text x="171.68" y="510.30" font-size="8.9" text-anchor="middle" fill="#333" >&#8722;200</text>
<line x1="206.92" x2="206.92" y1="501.3" y2="498.8" stroke="#555" stroke-width="0.6"/>
<text x="206.92" y="510.30" font-size="8.9" text-anchor="middle" fill="#333" >&#8722;190</text>
<line x1="242.17" x2="242.17" y1="501.3" y2="498.8" stroke="#555" stroke-width="0.6"/>
<text x="242.17" y="510.30" font-size="8.9" text-anchor="middle" fill="#333" >&#8722;180</text>
<line x1="277.41" x2="277.41" y1="501.3" y2="498.8" stroke="#555" stroke-width="0.6"/>
<text x="277.41" y="510.30" font-size="8.9" text-anchor="middle" fill="#333" >&#8722;170</text>
<line x1="312.66" x2="312.66" y1="501.3" y2="498.8" stroke="#555" stroke-width="0.6"/>
<text x="312.66" y="510.30" font-size="8.9" text-anchor="middle" fill="#333" >&#8722;160</text>
<line x1="347.90" x2="347.90" y1="501.3" y2="498.8" stroke="#555" stroke-width="0.6"/>
<text x="347.90" y="510.30" font-size="8.9" text-anchor="middle" fill="#333" >&#8722;150</text>
<line x1="30.7" x2="33.7" y1="501.30" y2="501.30" stroke="#555" stroke-width="0.6"/>
<text transform="translate(28.95,504.35) scale(0.9,1)" font-size="8.9" text-anchor="end" fill="#333">&#8722;10</text>
<line x1="30.7" x2="33.7" y1="462.03" y2="462.03" stroke="#555" stroke-width="0.6"/>
<text transform="translate(28.95,465.08) scale(0.9,1)" font-size="8.9" text-anchor="end" fill="#333">0</text>
<line x1="30.7" x2="33.7" y1="422.75" y2="422.75" stroke="#555" stroke-width="0.6"/>
<text transform="translate(28.95,425.80) scale(0.9,1)" font-size="8.9" text-anchor="end" fill="#333">10</text>
<line x1="30.7" x2="33.7" y1="383.48" y2="383.48" stroke="#555" stroke-width="0.6"/>
<text transform="translate(28.95,386.53) scale(0.9,1)" font-size="8.9" text-anchor="end" fill="#333">20</text>
<line x1="30.7" x2="33.7" y1="344.21" y2="344.21" stroke="#555" stroke-width="0.6"/>
<text transform="translate(28.95,347.26) scale(0.9,1)" font-size="8.9" text-anchor="end" fill="#333">30</text>
<line x1="30.7" x2="33.7" y1="304.94" y2="304.94" stroke="#555" stroke-width="0.6"/>
<text transform="translate(28.95,307.99) scale(0.9,1)" font-size="8.9" text-anchor="end" fill="#333">40</text>
<line x1="409.6" x2="726.6" y1="462.48" y2="462.48" stroke="#dcdcdc" stroke-width="1"/>
<line x1="409.6" x2="726.6" y1="403.57" y2="403.57" stroke="#dcdcdc" stroke-width="1"/>
<line x1="409.6" x2="726.6" y1="344.66" y2="344.66" stroke="#dcdcdc" stroke-width="1"/>
<path d="M410.6,345.4 L412.3,343.2 L414.2,341.0 L415.5,344.8 L417.7,343.7 L419.9,344.0 L422.1,344.6 L423.7,346.1 L425.3,340.7 L427.0,342.1 L428.4,344.8 L430.2,343.5 L432.4,344.0 L434.2,341.6 L436.2,345.9 L437.8,342.4 L440.0,343.2 L442.2,342.9 L444.4,342.1 L446.5,341.3 L449.3,344.0 L451.4,341.6 L453.6,340.7 L455.2,343.7 L457.4,344.3 L459.6,345.7 L461.8,345.0 L464.0,344.8 L465.6,346.5 L467.2,342.6 L468.6,339.9 L470.5,340.5 L472.1,340.5 L474.3,342.6 L476.5,344.3 L478.1,342.1 L479.7,336.7 L481.1,338.3 L482.4,338.8 L483.8,330.7 L484.9,329.0 L486.0,326.9 L487.1,332.3 L488.5,337.7 L489.6,334.5 L490.9,341.6 L492.0,340.5 L493.3,343.2 L494.4,348.1 L495.5,344.8 L496.9,349.2 L498.3,346.5 L499.6,347.5 L500.7,351.3 L501.8,356.2 L502.9,354.1 L503.9,356.2 L505.2,349.7 L506.7,348.6 L508.3,351.3 L509.9,348.6 L511.6,347.0 L513.2,348.1 L514.8,347.0 L517.0,345.4 L519.2,343.5 L520.8,345.9 L522.4,348.1 L524.1,345.4 L525.7,345.9 L527.9,345.9 L529.5,342.4 L531.1,342.4 L532.8,342.1 L534.4,344.3 L536.0,342.1 L537.7,337.2 L539.3,330.7 L540.4,327.4 L541.5,326.5 L543.1,329.6 L544.7,332.9 L546.2,336.1 L547.2,341.6 L548.3,344.3 L549.6,342.6 L550.7,341.0 L552.4,344.3 L554.0,343.2 L555.6,342.6 L556.8,341.8 L558.7,343.3 L560.1,342.0 L562.3,346.3 L564.2,343.5 L566.0,341.8 L567.2,345.1 L568.5,342.3 L570.3,343.9 L572.7,345.5 L575.2,343.9 L577.6,343.3 L580.7,344.2 L583.8,345.9 L586.2,343.9 L588.7,344.2 L590.5,342.0 L592.3,345.1 L593.6,343.9 L595.1,347.5 L596.6,344.5 L598.5,345.9 L600.3,343.3 L602.1,340.2 L604.0,342.6 L605.8,343.0 L607.6,344.5 L608.9,342.3 L610.7,339.8 L612.5,342.6 L614.0,341.4 L615.6,343.5 L618.0,344.2 L620.5,343.5 L622.9,342.6 L625.4,345.1 L627.8,343.0 L630.3,342.3 L632.1,343.3 L634.0,344.5 L636.4,341.4 L638.8,343.3 L640.0,343.3 L641.8,340.2 L643.1,344.5 L644.9,342.0 L647.3,343.3 L649.2,343.9 L650.4,347.2 L652.2,343.9 L654.7,343.9 L657.1,343.3 L659.0,341.4 L660.8,343.3 L662.6,341.4 L664.5,345.1 L666.3,347.2 L668.2,342.0 L670.0,343.9 L672.1,342.0 L674.3,345.7 L676.7,344.5 L679.2,345.1 L681.6,344.2 L684.1,343.9 L685.9,342.6 L687.7,345.9 L689.6,343.9 L691.4,344.5 L692.9,342.0 L695.1,342.6 L696.9,342.0 L698.8,341.8 L700.6,343.9 L702.4,343.5 L704.9,346.7 L706.7,344.2 L708.5,345.1 L710.4,343.9 L712.5,341.1 L714.7,342.0 L716.5,342.6 L718.3,343.3 L720.2,344.7 L722.0,345.1 L723.8,344.5 L725.7,345.5" fill="none" stroke="#6495ed" stroke-width="1.0" stroke-linejoin="round"/>
<path d="M410.1,403.1 L413.4,402.5 L416.6,403.1 L419.9,402.2 L423.1,402.9 L426.4,403.3 L430.2,403.1 L433.5,402.5 L436.7,403.3 L440.6,402.9 L443.8,402.2 L447.1,402.9 L450.9,402.5 L454.2,403.1 L456.9,401.8 L459.6,400.4 L462.3,399.0 L465.6,399.3 L468.3,396.6 L470.8,394.6 L473.2,397.1 L475.9,400.9 L478.1,402.5 L480.3,399.8 L482.5,394.2 L484.1,391.7 L485.6,390.4 L487.4,393.1 L489.7,396.3 L491.4,399.4 L493.1,402.8 L495.4,404.5 L497.7,404.3 L500.0,403.2 L502.3,403.6 L504.5,405.7 L506.8,408.9 L509.5,411.4 L512.0,410.2 L514.2,408.5 L516.5,409.7 L518.8,408.5 L521.7,407.7 L524.5,408.9 L526.8,404.5 L529.1,401.7 L531.4,399.0 L533.7,397.1 L535.4,394.8 L537.1,389.1 L538.8,382.3 L540.5,376.0 L542.0,374.3 L543.4,376.6 L545.1,384.0 L546.8,390.8 L549.1,396.0 L551.3,400.0 L553.6,402.5 L555.0,402.2 L558.7,402.9 L562.3,402.5 L566.0,403.2 L569.7,402.5 L573.4,403.2 L577.0,402.5 L580.1,403.7 L582.5,402.5 L584.6,401.6 L587.4,402.9 L589.9,402.5 L592.3,403.7 L595.4,403.2 L598.5,402.5 L602.1,402.2 L605.8,403.2 L608.9,402.5 L611.3,401.6 L615.0,402.9 L618.0,402.2 L621.1,402.5 L624.8,403.2 L628.4,402.9 L632.1,402.9 L635.8,402.5 L639.5,402.9 L643.7,402.1 L647.3,403.0 L651.0,402.4 L655.3,402.8 L659.0,404.0 L662.6,402.4 L666.3,403.3 L671.8,404.0 L675.5,403.0 L679.8,402.8 L683.5,404.0 L687.7,403.0 L692.6,403.3 L697.5,403.7 L702.4,403.0 L707.3,403.3 L712.2,403.0 L717.1,402.4 L720.8,403.0 L725.7,402.8" fill="none" stroke="#4169e1" stroke-width="1.2" stroke-linejoin="round"/>
<path d="M410.7,461.8 L415.8,462.1 L421.0,462.1 L426.1,462.6 L429.5,461.6 L432.9,460.9 L436.4,462.1 L440.6,461.3 L444.9,462.5 L449.2,462.1 L452.6,462.1 L455.2,457.0 L457.4,449.3 L459.4,442.5 L462.0,440.4 L464.6,439.9 L467.1,440.4 L469.2,439.4 L471.4,441.6 L473.6,445.0 L475.7,452.7 L478.2,460.4 L480.3,463.2 L483.4,459.6 L486.8,455.3 L489.4,451.0 L492.0,448.0 L494.5,444.2 L496.6,443.0 L498.8,444.2 L501.4,447.6 L503.9,451.0 L506.5,454.4 L509.1,459.6 L511.6,464.7 L513.3,469.8 L515.0,478.4 L516.8,486.9 L518.5,490.0 L520.7,487.8 L523.6,485.2 L525.8,476.7 L527.9,469.0 L530.1,462.6 L531.6,462.1 L533.3,463.3 L535.0,456.2 L537.3,439.1 L539.8,422.8 L541.5,418.2 L543.6,417.2 L545.8,419.4 L548.4,428.8 L550.9,440.8 L553.5,452.7 L555.5,457.5 L556.8,459.6 L559.3,462.3 L561.7,461.8 L564.2,461.4 L566.6,463.0 L569.1,462.0 L572.1,462.0 L575.8,462.3 L578.9,463.3 L581.9,463.3 L585.6,463.3 L588.7,462.3 L591.7,461.8 L595.4,461.4 L598.5,461.1 L601.5,459.8 L604.6,459.6 L607.6,458.6 L610.7,459.3 L613.1,458.4 L616.2,459.0 L619.3,460.2 L622.3,459.3 L626.0,459.0 L629.7,459.6 L633.3,459.3 L635.8,460.2 L639.5,459.8 L644.9,460.4 L648.8,459.4 L652.2,461.2 L656.5,460.8 L660.8,460.6 L664.5,462.1 L669.4,462.4 L674.3,463.7 L679.2,464.0 L684.1,463.3 L689.0,463.7 L693.9,463.3 L700.0,464.0 L704.9,463.3 L709.8,463.7 L713.4,463.0 L718.3,464.0 L722.0,463.3 L725.7,463.7" fill="none" stroke="#262a88" stroke-width="1.2" stroke-linejoin="round"/>
<rect x="409.6" y="285.3" width="317.00" height="216.00" fill="none" stroke="#1e1e1e" stroke-width="1.45"/>
<line x1="409.60" x2="409.60" y1="501.3" y2="498.8" stroke="#555" stroke-width="0.6"/>
<text x="409.60" y="510.30" font-size="8.9" text-anchor="middle" fill="#333" >&#8722;240</text>
<line x1="444.82" x2="444.82" y1="501.3" y2="498.8" stroke="#555" stroke-width="0.6"/>
<text x="444.82" y="510.30" font-size="8.9" text-anchor="middle" fill="#333" >&#8722;230</text>
<line x1="480.04" x2="480.04" y1="501.3" y2="498.8" stroke="#555" stroke-width="0.6"/>
<text x="480.04" y="510.30" font-size="8.9" text-anchor="middle" fill="#333" >&#8722;220</text>
<line x1="515.27" x2="515.27" y1="501.3" y2="498.8" stroke="#555" stroke-width="0.6"/>
<text x="515.27" y="510.30" font-size="8.9" text-anchor="middle" fill="#333" >&#8722;210</text>
<line x1="550.49" x2="550.49" y1="501.3" y2="498.8" stroke="#555" stroke-width="0.6"/>
<text x="550.49" y="510.30" font-size="8.9" text-anchor="middle" fill="#333" >&#8722;200</text>
<line x1="585.71" x2="585.71" y1="501.3" y2="498.8" stroke="#555" stroke-width="0.6"/>
<text x="585.71" y="510.30" font-size="8.9" text-anchor="middle" fill="#333" >&#8722;190</text>
<line x1="620.93" x2="620.93" y1="501.3" y2="498.8" stroke="#555" stroke-width="0.6"/>
<text x="620.93" y="510.30" font-size="8.9" text-anchor="middle" fill="#333" >&#8722;180</text>
<line x1="656.16" x2="656.16" y1="501.3" y2="498.8" stroke="#555" stroke-width="0.6"/>
<text x="656.16" y="510.30" font-size="8.9" text-anchor="middle" fill="#333" >&#8722;170</text>
<line x1="691.38" x2="691.38" y1="501.3" y2="498.8" stroke="#555" stroke-width="0.6"/>
<text x="691.38" y="510.30" font-size="8.9" text-anchor="middle" fill="#333" >&#8722;160</text>
<line x1="726.60" x2="726.60" y1="501.3" y2="498.8" stroke="#555" stroke-width="0.6"/>
<text x="726.60" y="510.30" font-size="8.9" text-anchor="middle" fill="#333" >&#8722;150</text>
<line x1="409.6" x2="412.6" y1="501.30" y2="501.30" stroke="#555" stroke-width="0.6"/>
<text transform="translate(407.85,504.35) scale(0.9,1)" font-size="8.9" text-anchor="end" fill="#333">&#8722;10</text>
<line x1="409.6" x2="412.6" y1="462.03" y2="462.03" stroke="#555" stroke-width="0.6"/>
<text transform="translate(407.85,465.08) scale(0.9,1)" font-size="8.9" text-anchor="end" fill="#333">0</text>
<line x1="409.6" x2="412.6" y1="422.75" y2="422.75" stroke="#555" stroke-width="0.6"/>
<text transform="translate(407.85,425.80) scale(0.9,1)" font-size="8.9" text-anchor="end" fill="#333">10</text>
<line x1="409.6" x2="412.6" y1="383.48" y2="383.48" stroke="#555" stroke-width="0.6"/>
<text transform="translate(407.85,386.53) scale(0.9,1)" font-size="8.9" text-anchor="end" fill="#333">20</text>
<line x1="409.6" x2="412.6" y1="344.21" y2="344.21" stroke="#555" stroke-width="0.6"/>
<text transform="translate(407.85,347.26) scale(0.9,1)" font-size="8.9" text-anchor="end" fill="#333">30</text>
<line x1="409.6" x2="412.6" y1="304.94" y2="304.94" stroke="#555" stroke-width="0.6"/>
<text transform="translate(407.85,307.99) scale(0.9,1)" font-size="8.9" text-anchor="end" fill="#333">40</text>
<text transform="translate(162.97,8.75) scale(0.9078,1)" font-size="13.6" fill="#222">Location 1</text>
<text transform="translate(145.05,249.90) scale(0.9983,1)" font-size="12.8" fill="#222">Velocity (km s<tspan dy="-4.6" font-size="8.6">&#8722;1</tspan><tspan dy="4.6">)</tspan></text>
<text transform="translate(9.80,190.44) rotate(-90) scale(0.9749,1)" font-size="12.9" fill="#222">Brightness Temperature (K)</text>
<text transform="translate(83.14,32.10) scale(0.8627,1)" font-size="11.2" fill="#222">1A</text>
<text transform="translate(136.06,32.10) scale(0.9391,1)" font-size="11.2" fill="#222">1B</text>
<text transform="translate(41.46,59.70) scale(1.1440,1)" font-size="10.6" fill="#ffe0b4">&#215; 8</text>
<text transform="translate(41.45,118.70) scale(1.1520,1)" font-size="10.6" fill="#ffab1a">&#215; 2</text>
<text transform="translate(322.63,59.50) scale(0.9319,1)" font-size="11.7" fill="#ffe0b4">C<tspan dy="-3.8" font-size="7.4">18</tspan><tspan dy="3.8">O</tspan></text>
<text transform="translate(322.90,118.50) scale(0.9289,1)" font-size="11.7" fill="#ffab1a"><tspan dy="-3.8" font-size="7.4">13</tspan><tspan dy="3.8">CO</tspan></text>
<text transform="translate(322.90,177.90) scale(0.9289,1)" font-size="11.7" fill="#ff961e"><tspan dy="-3.8" font-size="7.4">12</tspan><tspan dy="3.8">CO</tspan></text>
<text transform="translate(541.97,8.75) scale(0.9078,1)" font-size="13.6" fill="#222">Location 2</text>
<text transform="translate(524.05,249.90) scale(0.9983,1)" font-size="12.8" fill="#222">Velocity (km s<tspan dy="-4.6" font-size="8.6">&#8722;1</tspan><tspan dy="4.6">)</tspan></text>
<text transform="translate(388.80,190.44) rotate(-90) scale(0.9749,1)" font-size="12.9" fill="#222">Brightness Temperature (K)</text>
<text transform="translate(462.35,44.10) scale(0.8471,1)" font-size="11.2" fill="#222">1A</text>
<text transform="translate(514.75,44.10) scale(0.9478,1)" font-size="11.2" fill="#222">1B</text>
<text transform="translate(420.46,59.70) scale(1.1440,1)" font-size="10.6" fill="#ffe0b4">&#215; 8</text>
<text transform="translate(420.45,118.70) scale(1.1520,1)" font-size="10.6" fill="#ffab1a">&#215; 2</text>
<text transform="translate(701.63,59.50) scale(0.9319,1)" font-size="11.7" fill="#ffe0b4">C<tspan dy="-3.8" font-size="7.4">18</tspan><tspan dy="3.8">O</tspan></text>
<text transform="translate(701.90,118.50) scale(0.9289,1)" font-size="11.7" fill="#ffab1a"><tspan dy="-3.8" font-size="7.4">13</tspan><tspan dy="3.8">CO</tspan></text>
<text transform="translate(701.90,177.90) scale(0.9289,1)" font-size="11.7" fill="#ff961e"><tspan dy="-3.8" font-size="7.4">12</tspan><tspan dy="3.8">CO</tspan></text>
<text transform="translate(162.97,281.75) scale(0.9039,1)" font-size="13.6" fill="#222">Location 3</text>
<text transform="translate(145.05,522.90) scale(0.9983,1)" font-size="12.8" fill="#222">Velocity (km s<tspan dy="-4.6" font-size="8.6">&#8722;1</tspan><tspan dy="4.6">)</tspan></text>
<text transform="translate(9.80,463.44) rotate(-90) scale(0.9749,1)" font-size="12.9" fill="#222">Brightness Temperature (K)</text>
<text transform="translate(97.15,316.90) scale(0.8906,1)" font-size="11.2" fill="#222">2A</text>
<text transform="translate(160.43,316.90) scale(0.9500,1)" font-size="11.2" fill="#222">2B</text>
<text transform="translate(41.46,332.70) scale(1.1440,1)" font-size="10.6" fill="#7aa3f0">&#215; 8</text>
<text transform="translate(41.45,391.70) scale(1.1520,1)" font-size="10.6" fill="#4f74e3">&#215; 2</text>
<text transform="translate(322.63,332.50) scale(0.9319,1)" font-size="11.7" fill="#7aa3f0">C<tspan dy="-3.8" font-size="7.4">18</tspan><tspan dy="3.8">O</tspan></text>
<text transform="translate(322.90,391.50) scale(0.9289,1)" font-size="11.7" fill="#4f74e3"><tspan dy="-3.8" font-size="7.4">13</tspan><tspan dy="3.8">CO</tspan></text>
<text transform="translate(322.90,450.90) scale(0.9289,1)" font-size="11.7" fill="#3a3d8c"><tspan dy="-3.8" font-size="7.4">12</tspan><tspan dy="3.8">CO</tspan></text>
<text transform="translate(541.98,281.75) scale(0.9000,1)" font-size="13.6" fill="#222">Location 4</text>
<text transform="translate(524.05,522.90) scale(0.9983,1)" font-size="12.8" fill="#222">Velocity (km s<tspan dy="-4.6" font-size="8.6">&#8722;1</tspan><tspan dy="4.6">)</tspan></text>
<text transform="translate(388.80,463.44) rotate(-90) scale(0.9749,1)" font-size="12.9" fill="#222">Brightness Temperature (K)</text>
<text transform="translate(476.07,316.90) scale(0.8679,1)" font-size="11.2" fill="#222">2A</text>
<text transform="translate(539.42,316.90) scale(0.9500,1)" font-size="11.2" fill="#222">2B</text>
<text transform="translate(420.46,332.70) scale(1.1440,1)" font-size="10.6" fill="#7aa3f0">&#215; 8</text>
<text transform="translate(420.45,391.70) scale(1.1520,1)" font-size="10.6" fill="#4f74e3">&#215; 2</text>
<text transform="translate(701.63,332.50) scale(0.9319,1)" font-size="11.7" fill="#7aa3f0">C<tspan dy="-3.8" font-size="7.4">18</tspan><tspan dy="3.8">O</tspan></text>
<text transform="translate(701.90,391.50) scale(0.9289,1)" font-size="11.7" fill="#4f74e3"><tspan dy="-3.8" font-size="7.4">13</tspan><tspan dy="3.8">CO</tspan></text>
<text transform="translate(701.90,450.90) scale(0.9289,1)" font-size="11.7" fill="#3a3d8c"><tspan dy="-3.8" font-size="7.4">12</tspan><tspan dy="3.8">CO</tspan></text>
</svg>
</body></html>
